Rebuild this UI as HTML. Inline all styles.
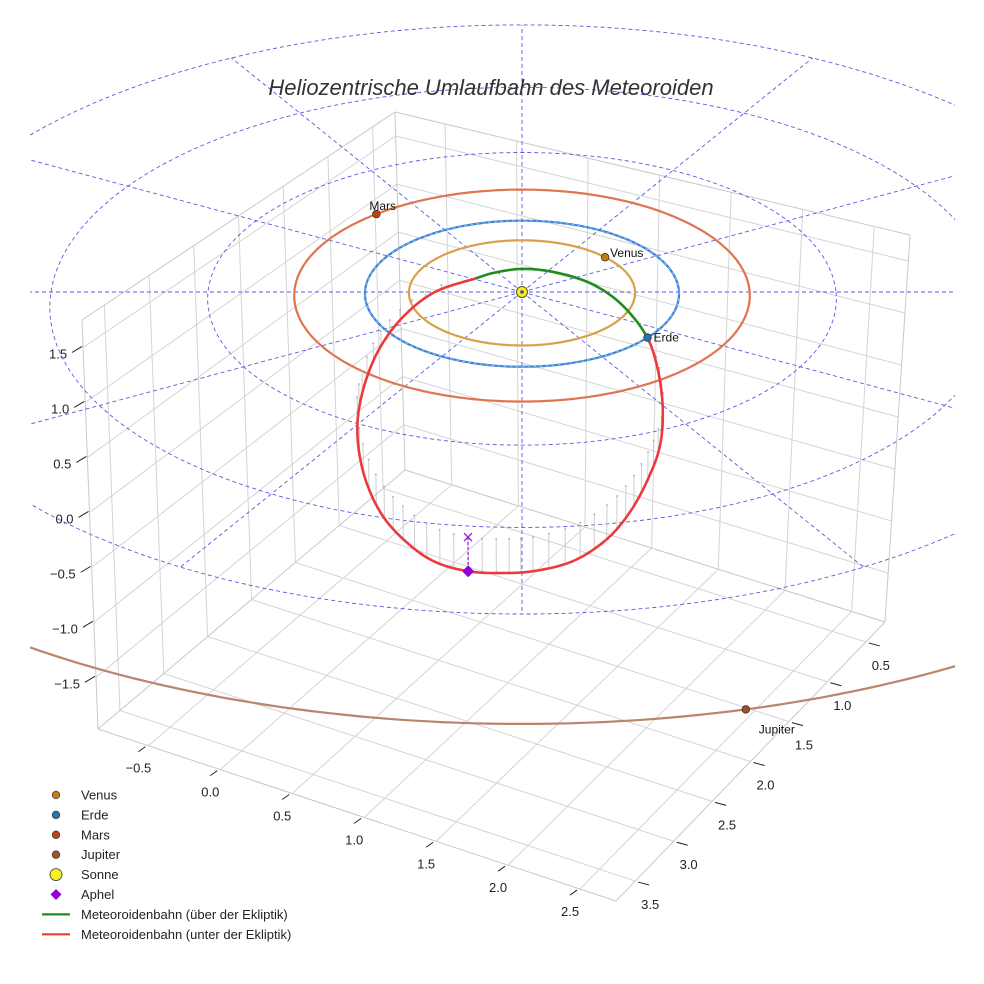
<!DOCTYPE html>
<html><head><meta charset="utf-8"><style>
html,body{margin:0;padding:0;background:#fff;}
svg{display:block;font-family:"Liberation Sans",sans-serif;}
</style></head><body>
<svg id="chart" width="984" height="984" viewBox="0 0 984 984" xmlns="http://www.w3.org/2000/svg">
<defs>
<clipPath id="plotclip"><rect x="30" y="0" width="925" height="984"/></clipPath>
<clipPath id="orbclip"><rect x="30" y="100" width="925" height="884"/></clipPath>
</defs>
<rect width="984" height="984" fill="#fff"/>
<g id="box"></g>
<g id="ecl" clip-path="url(#plotclip)"></g>
<g id="orbits" clip-path="url(#orbclip)"></g>
<g id="meteor"></g>
<g id="marks"></g>
<text x="491" y="95" text-anchor="middle" font-size="22" font-style="italic" fill="#333">Heliozentrische Umlaufbahn des Meteoroiden</text>
<g id="legend"></g>
</svg>
<script>
// ---- data ----
const xTicks = [-0.5, 0.0, 0.5, 1.0, 1.5, 2.0, 2.5];
const yTicks = [0.5, 1.0, 1.5, 2.0, 2.5, 3.0, 3.5];
const zTicks = [-1.5, -1.0, -0.5, 0.0, 0.5, 1.0, 1.5];
const planetNames = ["Venus", "Erde", "Mars", "Jupiter"];
const planetRadii = [0.72, 1.0, 1.45, 5.2];
const planetAnglesDeg = [-42, 38, -131, 76];
const ringRadii = [1, 2, 3, 4];
const spokeAnglesDeg = [0, 30, 60, 90, 120, 150, 180, 210, 240, 270, 300, 330];
// meteoroid orbit samples (heliocentric ecliptic coords, AU)
const meteorU = [0.000, 0.199, 0.434, 0.622, 0.785, 0.847, 0.870, 0.844, 0.764, 0.649, 0.507, 0.302, 0.065, -0.112, -0.319, -0.527, -0.710, -0.853, -0.966, -1.015, -0.994, -0.911, -0.773, -0.568, -0.288, -0.186];
const meteorV = [-0.290, -0.248, -0.096, 0.164, 0.608, 0.938, 1.340, 1.723, 2.085, 2.442, 2.732, 2.983, 3.113, 3.136, 3.113, 2.994, 2.744, 2.442, 1.986, 1.481, 1.056, 0.608, 0.245, -0.055, -0.193, -0.248];
const meteorZ = [0.015, 0.015, 0.014, 0.007, 0.0, -0.056, -0.119, -0.166, -0.192, -0.217, -0.236, -0.241, -0.234, -0.233, -0.234, -0.234, -0.229, -0.217, -0.199, -0.181, -0.154, -0.114, -0.072, -0.036, 0.0, 0.007];
const aphelIndex = [14];

const NS = "http://www.w3.org/2000/svg";
function mk(tag, attrs, parent){const e=document.createElementNS(NS,tag);for(const k in attrs)e.setAttribute(k,attrs[k]);parent.appendChild(e);return e;}
const fmt = v => (v<0?"\u2212":"")+Math.abs(v).toFixed(1);

// ---- box (screen-space trilinear axis) ----
const xr=[-0.85,2.75], yr=[0.25,3.75], zr=[-1.97,1.75];
const FL={L:[98,729],F:[616,901],R:[885,622],B:[405,470]};
const TP={L:[82,320],F:[621,503],R:[910,235],B:[395,112]};
function bil(C,x,y){const s=(x-xr[0])/(xr[1]-xr[0]), t=(yr[1]-y)/(yr[1]-yr[0]);
  const a=[C.L[0]+(C.F[0]-C.L[0])*s, C.L[1]+(C.F[1]-C.L[1])*s];
  const b=[C.B[0]+(C.R[0]-C.B[0])*s, C.B[1]+(C.R[1]-C.B[1])*s];
  return [a[0]+(b[0]-a[0])*t, a[1]+(b[1]-a[1])*t];}
function boxPt(x,y,z){const f=bil(FL,x,y), p=bil(TP,x,y), k=(z-zr[0])/(zr[1]-zr[0]);return [f[0]+(p[0]-f[0])*k, f[1]+(p[1]-f[1])*k];}
const box=document.getElementById('box');
function gl(a,b,col,w){const l=mk('line',{x1:a[0],y1:a[1],x2:b[0],y2:b[1],stroke:col,'stroke-width':w},box);return l;}
xTicks.forEach(x=>gl(boxPt(x,yr[0],zr[0]),boxPt(x,yr[1],zr[0]),'#d4d4d4',1));
yTicks.forEach(y=>gl(boxPt(xr[0],y,zr[0]),boxPt(xr[1],y,zr[0]),'#d4d4d4',1));
yTicks.forEach(y=>gl(boxPt(xr[0],y,zr[0]),boxPt(xr[0],y,zr[1]),'#d4d4d4',1));
zTicks.forEach(z=>gl(boxPt(xr[0],yr[0],z),boxPt(xr[0],yr[1],z),'#d4d4d4',1));
xTicks.forEach(x=>gl(boxPt(x,yr[0],zr[0]),boxPt(x,yr[0],zr[1]),'#d4d4d4',1));
zTicks.forEach(z=>gl(boxPt(xr[0],yr[0],z),boxPt(xr[1],yr[0],z),'#d4d4d4',1));
[[[xr[0],yr[1],zr[0]],[xr[1],yr[1],zr[0]]],[[xr[1],yr[1],zr[0]],[xr[1],yr[0],zr[0]]],
 [[xr[0],yr[1],zr[0]],[xr[0],yr[1],zr[1]]],[[xr[1],yr[0],zr[0]],[xr[1],yr[0],zr[1]]],
 [[xr[0],yr[0],zr[0]],[xr[0],yr[0],zr[1]]],[[xr[0],yr[1],zr[1]],[xr[0],yr[0],zr[1]]],
 [[xr[0],yr[0],zr[1]],[xr[1],yr[0],zr[1]]],[[xr[0],yr[1],zr[0]],[xr[0],yr[0],zr[0]]],
 [[xr[0],yr[0],zr[0]],[xr[1],yr[0],zr[0]]]].forEach(e=>gl(boxPt(...e[0]),boxPt(...e[1]),'#c8c8c8',1));
function tl(x,y,txt,anchor,name){const t=mk('text',{x:x,y:y,'font-size':13,fill:'#222','text-anchor':anchor},box);t.textContent=txt;}
xTicks.forEach(x=>{const p=boxPt(x,yr[1],zr[0]);gl([p[0]-3,p[1]+1],[p[0]-10,p[1]+6],'#222',1);tl(p[0]-10,p[1]+27,fmt(x),'middle','x-tick-label');});
yTicks.forEach(y=>{const p=boxPt(xr[1],y,zr[0]);gl([p[0]+3,p[1]+1],[p[0]+14,p[1]+4],'#222',1);tl(p[0]+15,p[1]+28,fmt(y),'middle','y-tick-label');});
zTicks.forEach(z=>{const p=boxPt(xr[0],yr[1],z);gl([p[0]-1,p[1]-1],[p[0]-11,p[1]+5],'#222',1);tl(p[0]-16,p[1]+11,fmt(z),'end','z-tick-label');});

// ---- ecliptic perspective projection ----
const CX=522, CY=292, K=157, SN=0.465, CS=0.885, DD=38;
function proj(u,v,z){const w=1-(v*CS+z*SN)/DD;return [CX+K*u/w, CY+K*(v*SN-z*CS)/w];}
const rad=d=>d*Math.PI/180;
function circlePath(r){let d='';for(let i=0;i<=360;i++){const a=rad(i);const p=proj(r*Math.cos(a),r*Math.sin(a),0);d+=(i?'L':'M')+p[0].toFixed(1)+' '+p[1].toFixed(1);}return d;}
const ecl=document.getElementById('ecl');
ringRadii.forEach(r=>{const e=mk('path',{d:circlePath(r),fill:'none',stroke:'#5a5ae0','stroke-width':0.9,'stroke-dasharray':'4 3'},ecl);});
spokeAnglesDeg.forEach(a=>{const p0=proj(0,0,0),p1=proj(4.0*Math.cos(rad(a)),4.0*Math.sin(rad(a)),0);const e=mk('line',{x1:p0[0],y1:p0[1],x2:p1[0],y2:p1[1],stroke:'#5a5ae0','stroke-width':0.9,'stroke-dasharray':'4 3'},ecl);});

const orbitCols=['#d9a04a','#3a80d6','#df7550','#b9866c'];
const dotCols=['#c77c12','#1f77b4','#c4420c','#a0522d'];
const orbits=document.getElementById('orbits');
planetRadii.forEach((r,i)=>{const e=mk('path',{d:circlePath(r),fill:'none',stroke:orbitCols[i],'stroke-width':2.2},orbits);});
{const e=mk('path',{d:circlePath(1.0),fill:'none',stroke:'#8ec0ee','stroke-width':1,'stroke-dasharray':'3 3'},orbits);}

// meteoroid orbit: project samples, then smooth closed centripetal Catmull-Rom in screen space
const met=document.getElementById('meteor');
const N=meteorU.length, SUB=10;
const P=meteorU.map((u,i)=>proj(u,meteorV[i],meteorZ[i]));
const P0=meteorU.map((u,i)=>proj(u,meteorV[i],0));
function crPt(A,i,t){const n=A.length;const p0=A[(i-1+n)%n],p1=A[i],p2=A[(i+1)%n],p3=A[(i+2)%n];
  const d=(a,b)=>Math.pow(Math.hypot(b[0]-a[0],b[1]-a[1]),0.5)||1e-4;
  const t0=0,t1=t0+d(p0,p1),t2=t1+d(p1,p2),t3=t2+d(p2,p3);const tt=t1+(t2-t1)*t;
  const L=(a,b,ta,tb)=>[0,1].map(k=>(tb-tt)/(tb-ta)*a[k]+(tt-ta)/(tb-ta)*b[k]);
  const A1=L(p0,p1,t0,t1),A2=L(p1,p2,t1,t2),A3=L(p2,p3,t2,t3);
  const B1=L(A1,A2,t0,t2),B2=L(A2,A3,t1,t3);return L(B1,B2,t1,t2);}
const segs=[];
for(let i=0;i<N;i++){const above=meteorZ[i]>=0&&meteorZ[(i+1)%N]>=0;const arr=[],arr0=[];
  for(let s=0;s<=SUB;s++){arr.push(crPt(P,i,s/SUB));arr0.push(crPt(P0,i,s/SUB));}
  segs.push({above,arr,arr0});}
let cnt=0;
segs.forEach(sg=>{if(sg.above)return;sg.arr.forEach((p1,k)=>{if(k===SUB)return;if(cnt++%4!==0)return;const p0=sg.arr0[k];if(p1[1]-p0[1]<3)return;
  const e=mk('line',{x1:p0[0],y1:p0[1],x2:p1[0],y2:p1[1],stroke:'#c8c8c8','stroke-width':0.9},met);
  const c=mk('circle',{cx:p0[0],cy:p0[1],r:0.9,fill:'#aaa'},met);});});
let cur=null;const runs=[];
segs.forEach(sg=>{if(cur&&cur.above===sg.above){cur.arr=cur.arr.concat(sg.arr.slice(1));}else{cur={above:sg.above,arr:sg.arr.slice()};runs.push(cur);}});
runs.forEach(r=>{const d='M'+r.arr.map(p=>p[0].toFixed(1)+' '+p[1].toFixed(1)).join('L');
  const e=mk('path',{d:d,fill:'none',stroke:r.above?'#1f8c1f':'#ec3a3a','stroke-width':2.6,'stroke-linecap':'round'},met);});

// markers
const marks=document.getElementById('marks');
planetRadii.forEach((r,i)=>{const ang=rad(planetAnglesDeg[i]);const p=proj(r*Math.cos(ang),r*Math.sin(ang),0);
  const c=mk('circle',{cx:p[0],cy:p[1],r:3.8,fill:dotCols[i],stroke:'#333','stroke-width':0.8},marks);
  const off=[[5,0],[6,4],[-7,-4],[13,24]][i];
  const t=mk('text',{x:p[0]+off[0],y:p[1]+off[1],'font-size':12,fill:'#111'},marks);t.textContent=planetNames[i];});
{const s=proj(0,0,0);const c=mk('circle',{cx:s[0],cy:s[1],r:5.5,fill:'#f5f020',stroke:'#5a5a10','stroke-width':1},marks);
 const c2=mk('circle',{cx:s[0],cy:s[1],r:1.8,fill:'#4040c0'},marks);}
{const i=aphelIndex[0];const p1=P[i],p0=P0[i];
 const l=mk('line',{x1:p0[0],y1:p0[1],x2:p1[0],y2:p1[1],stroke:'#9a1ad0','stroke-width':1.2,'stroke-dasharray':'3 2'},marks);
 const x=mk('path',{d:`M${p0[0]-4} ${p0[1]-4}L${p0[0]+4} ${p0[1]+4}M${p0[0]-4} ${p0[1]+4}L${p0[0]+4} ${p0[1]-4}`,stroke:'#9a1ad0','stroke-width':1.3},marks);
 const d=mk('path',{d:`M${p1[0]} ${p1[1]-6}L${p1[0]+6} ${p1[1]}L${p1[0]} ${p1[1]+6}L${p1[0]-6} ${p1[1]}Z`,fill:'#9400d3'},marks);}

// legend
const lg=document.getElementById('legend');
const items=[['dot','#c77c12','Venus'],['dot','#1f77b4','Erde'],['dot','#c4420c','Mars'],['dot','#a0522d','Jupiter'],['sun','#f5f020','Sonne'],['dia','#9400d3','Aphel'],['line','#1f8c1f','Meteoroidenbahn (über der Ekliptik)'],['line','#ec3a3a','Meteoroidenbahn (unter der Ekliptik)']];
items.forEach((it,i)=>{const y=795+i*19.9;const g=mk('g',{},lg);
  if(it[0]==='dot')mk('circle',{cx:56,cy:y,r:3.8,fill:it[1],stroke:'#333','stroke-width':0.7},g);
  else if(it[0]==='sun')mk('circle',{cx:56,cy:y,r:6,fill:it[1],stroke:'#333','stroke-width':0.8},g);
  else if(it[0]==='dia')mk('path',{d:`M56 ${y-5.5}L61.5 ${y}L56 ${y+5.5}L50.5 ${y}Z`,fill:it[1]},g);
  else mk('line',{x1:42,y1:y,x2:70,y2:y,stroke:it[1],'stroke-width':2.2},g);
  const t=mk('text',{x:81,y:y+4.5,'font-size':13,fill:'#222'},g);t.textContent=it[2];});
</script>
</body></html>
